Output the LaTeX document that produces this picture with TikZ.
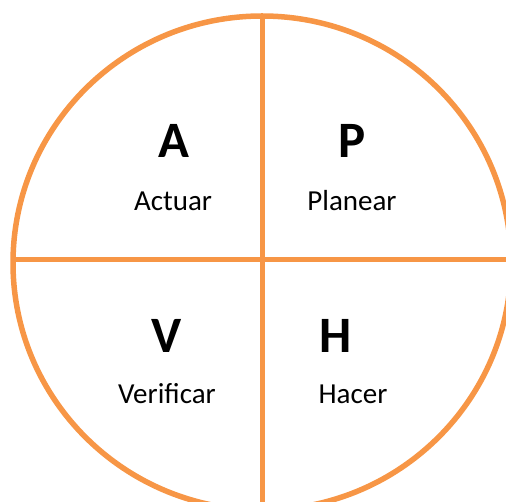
\documentclass[tikz,border=0pt]{standalone}
\usepackage{fontspec}
\setmainfont{Carlito}
\usepackage{tikz}
\usetikzlibrary{positioning}
\definecolor{ring}{HTML}{F79646}
\definecolor{ink}{HTML}{000000}
\tikzset{
  rim/.style={draw=ring, line width=5.5pt},
  cross/.style={draw=ring, line width=5pt},
  letter/.style={anchor=base, text=ink, inner sep=0pt,
                 font=\fontsize{51}{51}\selectfont\bfseries},
  word/.style={anchor=base, text=ink, inner sep=0pt,
               font=\fontsize{29}{29}\selectfont}
}
\begin{document}
\begin{tikzpicture}[x=1pt, y=-1pt]
  \useasboundingbox (0,0) rectangle (506,502);
  \clip (0,0) rectangle (506,502);
  \draw[rim] (262,263) ellipse [x radius=249, y radius=247];
  \coordinate (top) at (262,16);
  \coordinate (bot) at (262,510);
  \coordinate (lft) at (13,260);
  \coordinate (rgt) at (510,260);
  \draw[cross] (top) -- (bot);
  \draw[cross] (lft) -- (rgt);
  % quadrants
  \node[letter] (a) at (174,158) {A};
  \node[word] (actuar) at (173,211) {Actuar};
  \node[letter] (p) at (352,158) {P};
  \node[word] (planear) at (352,211) {Planear};
  \node[letter] (v) at (167,353) {V};
  \node[word] (verificar) at (167,403) {Verificar};
  \node[letter] (h) at (336,353) {H};
  \node[word] (hacer) at (353,403) {Hacer};
\end{tikzpicture}
\end{document}
